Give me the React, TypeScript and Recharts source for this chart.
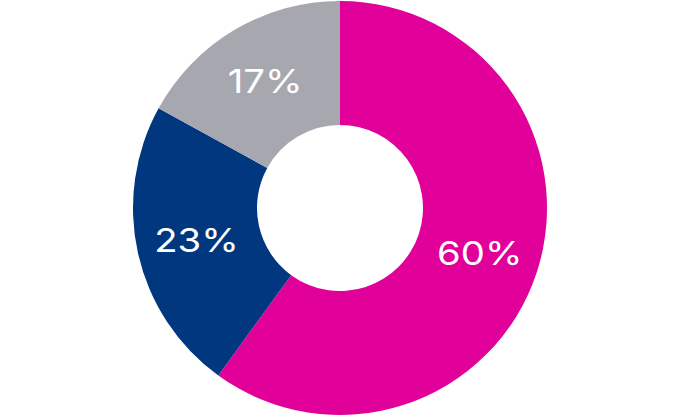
import { Cell, Pie, PieChart } from "recharts";

const NAMES = ["A", "B", "C"];
const VALUES = [60, 23, 17];
const COLORS = ["#E1009A", "#00377F", "#A7A8AF"];

const data = NAMES.map((name, i) => ({ name, value: VALUES[i] }));

const RAD = Math.PI / 180;

// white percentage in the middle of the ring, a bit stretched like the original face
function renderLabel(props: any) {
  const { cx, cy, midAngle, innerRadius, outerRadius, value } = props;
  const r = (innerRadius + outerRadius) / 2 + 2;
  const x = cx + r * Math.cos(-midAngle * RAD);
  const y = cy + r * Math.sin(-midAngle * RAD);
  return (
    <text
      transform={`translate(${x},${y}) scale(1.16,1)`}
      x={0}
      y={0}
      fill="#fff"
      textAnchor="middle"
      dominantBaseline="central"
      fontFamily="Inter, sans-serif"
      fontSize={33}
      fontWeight={400}
    >
      {value}%
    </text>
  );
}

export default function App() {
  return (
    <div style={{ position: "absolute", left: 0, top: 0, width: 680, height: 416, background: "#fff" }}>
      <PieChart width={680} height={416} margin={{ top: 0, right: 0, bottom: 0, left: 0 }}>
        <Pie
          data={data}
          dataKey="value"
          cx={340}
          cy={208}
          innerRadius={83}
          outerRadius={207}
          startAngle={90}
          endAngle={-270}
          stroke="none"
          label={renderLabel}
          labelLine={false}
          isAnimationActive={false}
        >
          {data.map((_, i) => (
            <Cell key={i} fill={COLORS[i]} />
          ))}
        </Pie>
      </PieChart>
    </div>
  );
}
